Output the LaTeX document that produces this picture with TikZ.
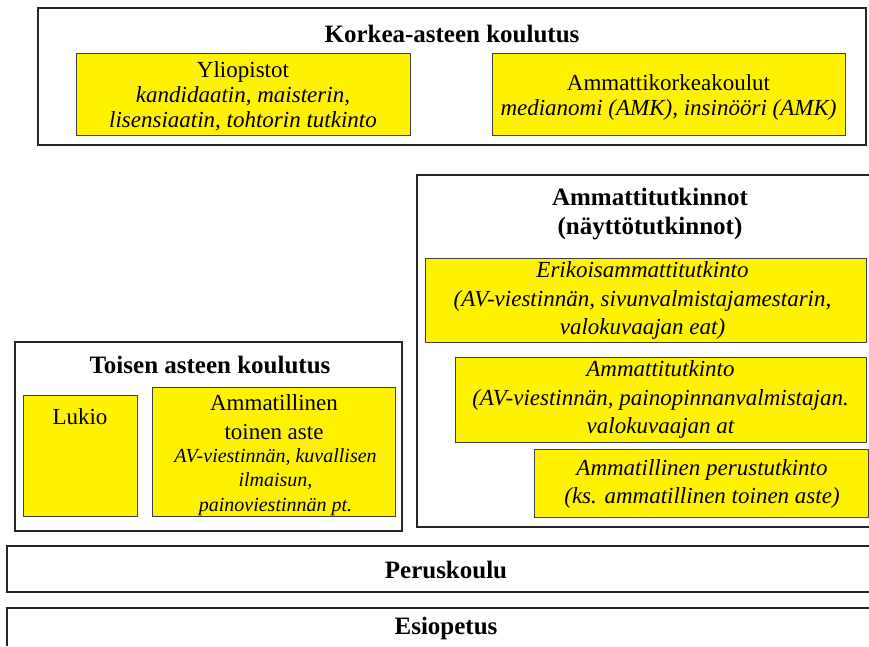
\documentclass[tikz,border=0pt]{standalone}
\usepackage{fontspec}
\setmainfont{Liberation Serif}
\tikzset{
 frame/.style={draw=black!85, line width=1.2pt, fill=white, inner sep=0pt},
 framepath/.style={draw=black!85, line width=1.2pt},
 ybox/.style={draw=black!75, line width=1pt, fill=yellow, inner sep=0pt},
 ttl/.style={font=\fontsize{25}{29}\selectfont\bfseries, align=center, inner sep=0pt},
 txt/.style={font=\fontsize{23}{25}\selectfont, align=center, inner sep=0pt},
 txtw/.style={font=\fontsize{23}{29}\selectfont, align=center, inner sep=0pt},
 itx/.style={font=\fontsize{23}{25}\selectfont\itshape, align=center, inner sep=0pt},
 itxw/.style={font=\fontsize{23}{28.5}\selectfont\itshape, align=center, inner sep=0pt},
 sitx/.style={font=\fontsize{20}{24.5}\selectfont\itshape, align=center, inner sep=0pt},
}
\begin{document}
\begin{tikzpicture}[x=1pt,y=-1pt]
\useasboundingbox (0,0) rectangle (869,646);
\fill[white] (0,0) rectangle (869,646);

% Korkea-asteen koulutus
\node[frame, minimum width=828pt, minimum height=137pt] (ka) at (452,76.5) {};
\node[ttl] (katitle) at (452,34) {Korkea-asteen koulutus};
\node[ybox, minimum width=334pt, minimum height=82pt] (yl) at (243,94) {};
\node[txt] (yltxt) at (243,96) {Yliopistot\\\itshape kandidaatin, maisterin,\\\itshape lisensiaatin, tohtorin tutkinto};
\node[ybox, minimum width=353pt, minimum height=82pt] (amk) at (668.5,94) {};
\node[txt] (amktxt) at (668.5,97.5) {Ammattikorkeakoulut\\\itshape medianomi (AMK), insinööri (AMK)};

% Ammattitutkinnot
\coordinate (at1) at (869,175);
\coordinate (at2) at (417,175);
\coordinate (at3) at (417,527);
\coordinate (at4) at (869,527);
\draw[framepath] (at1) -- (at2) -- (at3) -- (at4);
\node[ttl] (attitle) at (650,214) {Ammattitutkinnot\\(näyttötutkinnot)};
\node[ybox, minimum width=441pt, minimum height=84pt] (eat) at (645.5,300) {};
\node[itxw] (eattxt) at (642.5,300.5) {Erikoisammattitutkinto\\(AV-viestinnän, sivunvalmistajamestarin,\\valokuvaajan eat)};
\node[ybox, minimum width=411pt, minimum height=85pt] (atk) at (660.5,399.5) {};
\node[itxw] (atktxt) at (660.5,399.5) {Ammattitutkinto\\(AV-viestinnän, painopinnanvalmistajan.\\valokuvaajan at};
\node[ybox, minimum width=334pt, minimum height=68pt] (pt) at (701,483) {};
\node[itxw] (pttxt) at (702,484) {Ammatillinen perustutkinto\\(ks. ammatillinen toinen aste)};

% Toisen asteen koulutus
\node[frame, minimum width=387pt, minimum height=189pt] (ta) at (208.5,436.5) {};
\node[ttl] (tatitle) at (210,365) {Toisen asteen koulutus};
\node[ybox, minimum width=114pt, minimum height=121pt] (lu) at (80,455.5) {};
\node[txt] (lutxt) at (80,417) {Lukio};
\node[ybox, minimum width=243pt, minimum height=129pt] (am) at (273.5,451.5) {};
\node[txtw] (amtxt) at (274,417.5) {Ammatillinen\\toinen aste};
\node[sitx] (amitx) at (275.5,482) {AV-viestinnän, kuvallisen\\ilmaisun,\\painoviestinnän pt.};

% Peruskoulu
\coordinate (pk1) at (869,546);
\coordinate (pk2) at (7,546);
\coordinate (pk3) at (7,592);
\coordinate (pk4) at (869,592);
\draw[framepath] (pk1) -- (pk2) -- (pk3) -- (pk4);
\node[ttl] (pktxt) at (446,570) {Peruskoulu};

% Esiopetus
\coordinate (ep1) at (869,608);
\coordinate (ep2) at (7,608);
\coordinate (ep3) at (7,646);
\draw[framepath] (ep1) -- (ep2) -- (ep3);
\node[ttl] (eptxt) at (446,628) {Esiopetus};
\end{tikzpicture}
\end{document}
